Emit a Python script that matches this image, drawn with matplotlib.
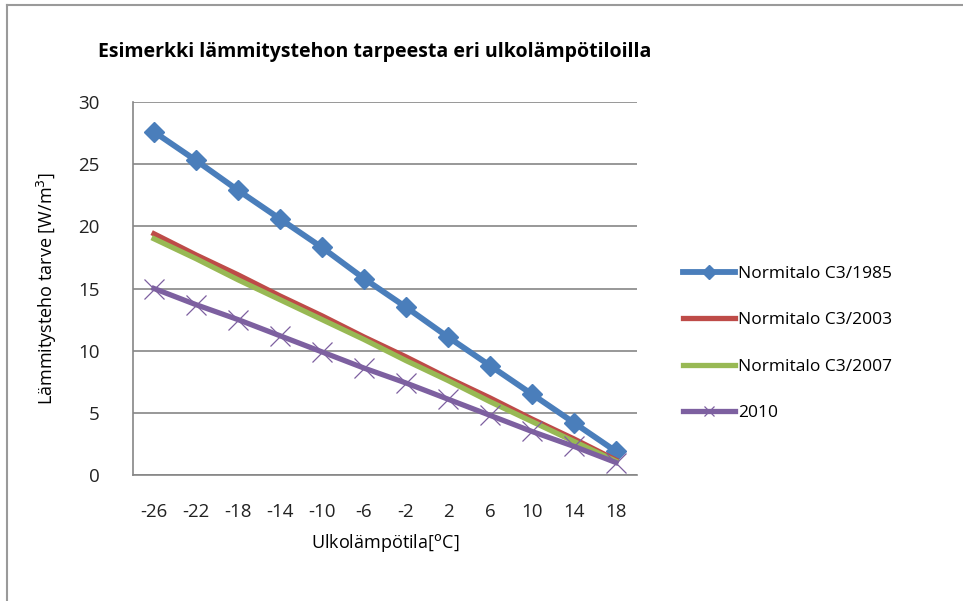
import matplotlib.pyplot as plt
from matplotlib.lines import Line2D

# outdoor temperatures (categories)
temps = [-26, -22, -18, -14, -10, -6, -2, 2, 6, 10, 14, 18]

# heating power demand W/m3
c3_1985 = [27.6, 25.3, 22.9, 20.6, 18.3, 15.8, 13.5, 11.1, 8.8, 6.5, 4.2, 1.9]
c3_2003 = [19.4, 17.7, 16.1, 14.4, 12.8, 11.1, 9.5, 7.8, 6.2, 4.5, 2.9, 1.2]
c3_2007 = [19.0, 17.4, 15.7, 14.1, 12.5, 10.9, 9.2, 7.6, 5.9, 4.3, 2.7, 1.1]
y2010 = [15.0, 13.7, 12.5, 11.2, 9.9, 8.6, 7.4, 6.1, 4.8, 3.5, 2.3, 1.0]

labels = ['Normitalo C3/1985', 'Normitalo C3/2003', 'Normitalo C3/2007', '2010']

plt.rcParams['font.family'] = ['Open Sans', 'DejaVu Sans']

fig = plt.figure(figsize=(9.63, 6.01), dpi=100)
ax = fig.add_axes([133 / 963, 1 - 475 / 601, 504 / 963, 373 / 601])

x = range(len(temps))
ax.plot(x, c3_1985, color='#4A7EBB', lw=4.2, marker='D', ms=10, label=labels[0])
ax.plot(x, c3_2003, color='#BE4B48', lw=3.8, label=labels[1])
ax.plot(x, c3_2007, color='#98B954', lw=3.8, label=labels[2])
ax.plot(x, y2010, color='#7D60A0', lw=3.8, marker='x', ms=14, mew=0.9, label=labels[3])

ax.set_xlim(-0.5, len(temps) - 0.5)
ax.set_ylim(0, 30)
ax.set_yticks(range(0, 31, 5))
ax.set_xticks(list(x))
ax.set_xticklabels([str(t) for t in temps])
ax.tick_params(axis='both', length=0, labelsize=13.5, colors='#222222')
ax.tick_params(axis='y', pad=24)
ax.tick_params(axis='x', pad=20)
ax.yaxis.grid(True, color='#868686', lw=1.2)
ax.set_axisbelow(True)
for s in ['top', 'right']:
    ax.spines[s].set_visible(False)
for s in ['left', 'bottom']:
    ax.spines[s].set_color('#868686')
    ax.spines[s].set_linewidth(1.2)

ax.set_xlabel('Ulkolämpötila[$^{\\mathrm{o}}$C]', fontsize=13, labelpad=8)
ax.set_ylabel('Lämmitysteho tarve [W/m$^{3}$]', fontsize=13, labelpad=14)

fig.text(375 / 963, 1 - 52 / 601, 'Esimerkki lämmitystehon tarpeesta eri ulkolämpötiloilla',
         ha='center', va='center', fontsize=14, fontweight='bold')

leg = fig.legend(loc='upper left', bbox_to_anchor=(667 / 963, 1 - 250 / 601), frameon=False,
                 fontsize=12.5, handlelength=3.0, handletextpad=0.2, labelspacing=1.75)
for h in leg.legend_handles:
    h.set_markersize(7)

# outer chart border (top and left visible)
fig.add_artist(Line2D([7 / 963, 1], [1 - 5 / 601, 1 - 5 / 601], transform=fig.transFigure, color='#9a9a9a', lw=1.5))
fig.add_artist(Line2D([7 / 963, 7 / 963], [0, 1 - 5 / 601], transform=fig.transFigure, color='#9a9a9a', lw=1.5))

fig.savefig('out.png', dpi=100)
